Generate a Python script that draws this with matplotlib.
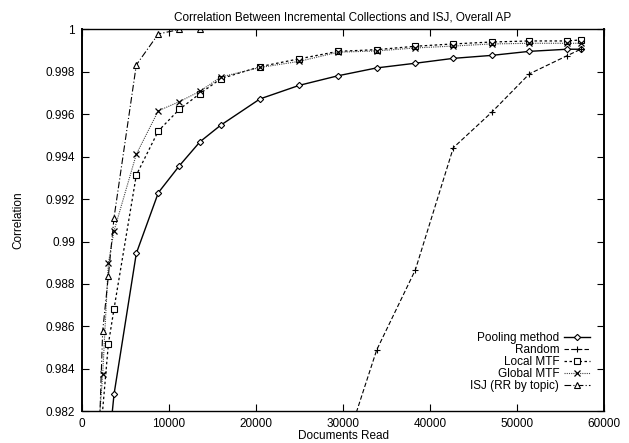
import matplotlib.pyplot as plt

plt.rcParams['font.family'] = ['Liberation Sans', 'DejaVu Sans']

# documents read at each measurement step
docs = [1727, 2375, 3026, 3678, 6240, 8770, 11190, 13560, 15940, 20460,
        24980, 29425, 33870, 38310, 42680, 47090, 51420, 55780, 57320]

pool_x = docs[2:]
pool_y = [0.9801, 0.9828, 0.98944, 0.9923, 0.99357, 0.9947, 0.99548, 0.99672,
          0.99736, 0.99781, 0.99818, 0.9984, 0.99863, 0.99877, 0.99896,
          0.99906, 0.99906]

rand_x = docs[11:]
rand_y = [0.9793, 0.98489, 0.98866, 0.99442, 0.99609, 0.9979, 0.99876, 0.99906]

local_x = [docs[0]] + docs[2:]
local_y = [0.9790, 0.98516, 0.98683, 0.99313, 0.99521, 0.99623, 0.99697,
           0.99767, 0.99824, 0.99861, 0.99896, 0.99904, 0.9992, 0.99931,
           0.9994, 0.99945, 0.99945, 0.9995]

glob_x = docs
glob_y = [0.9801, 0.98374, 0.98897, 0.9905, 0.99411, 0.99616, 0.99659,
          0.99708, 0.99775, 0.9982, 0.99849, 0.99892, 0.99898, 0.99912,
          0.99921, 0.99931, 0.99934, 0.99934, 0.99934]

isj_x = docs[:8]
isj_y = [0.9778, 0.98578, 0.98837, 0.99112, 0.99832, 0.99978, 0.99999, 1.0]

fig = plt.figure(figsize=(6.29, 4.43), dpi=100)
ax = fig.add_axes([0.1304, 0.0716, 0.8299, 0.8623])

ms = 4
ax.plot(pool_x, pool_y, color='black', lw=1.0, ls='-', marker='D',
        ms=3.2, mfc='white', mew=0.8, label='Pooling method')
ax.plot(rand_x, rand_y, color='black', lw=0.8, ls=(0, (4, 2)), marker='+',
        ms=ms + 1, mew=0.8, label='Random')
ax.plot(local_x, local_y, color='black', lw=0.9, ls=(0, (2, 2)), marker='s',
        ms=ms + 0.5, mfc='white', mew=0.8, label='Local MTF')
ax.plot(glob_x, glob_y, color='#444444', lw=0.8, ls=(0, (1, 1)), marker='x',
        ms=ms, mec='black', mew=0.9, label='Global MTF')
ax.plot(isj_x, isj_y, color='black', lw=0.8, ls=(0, (6, 2, 1, 2)), marker='^',
        ms=ms + 0.5, mfc='white', mew=0.8, label='ISJ (RR by topic)')

ax.set_xlim(0, 60000)
ax.set_ylim(0.982, 1.0)
ax.set_xticks([0, 10000, 20000, 30000, 40000, 50000, 60000])
ax.set_yticks([0.982, 0.984, 0.986, 0.988, 0.99, 0.992, 0.994, 0.996, 0.998, 1.0])
ax.set_yticklabels(['0.982', '0.984', '0.986', '0.988', '0.99', '0.992',
                    '0.994', '0.996', '0.998', '1'])
ax.tick_params(direction='in', top=True, right=True, length=5, width=0.8,
               labelsize=8.5, pad=5)
for side in ['left', 'right']:
    ax.spines[side].set_linewidth(1.4)
for side in ['top', 'bottom']:
    ax.spines[side].set_linewidth(1.0)

ax.set_title('Correlation Between Incremental Collections and ISJ, Overall AP',
             fontsize=8.5, pad=6)
ax.set_xlabel('Documents Read', fontsize=8.5, labelpad=0)
ax.set_ylabel('Correlation', fontsize=8.5, labelpad=15)

ax.legend(loc='lower right', frameon=False, markerfirst=False, fontsize=8.5,
          handlelength=2.2, handletextpad=0.4, labelspacing=0.0,
          borderaxespad=0, borderpad=0, bbox_to_anchor=(0.973, 0.05))

plt.savefig('out.png', dpi=100)
